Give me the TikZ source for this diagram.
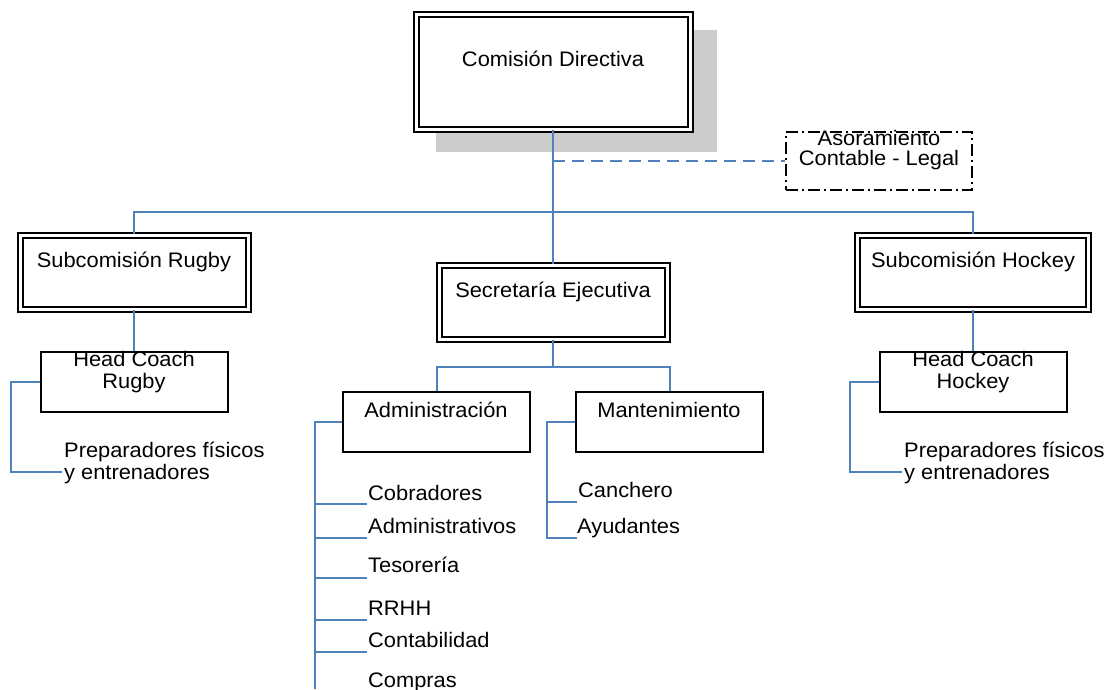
\documentclass[tikz,border=0pt]{standalone}
\usepackage{fontspec}
\setmainfont{Liberation Sans}[FakeStretch=1.04]
\definecolor{blueline}{RGB}{79,129,189}
\definecolor{shadowgray}{RGB}{204,204,204}
\begin{document}
\begin{tikzpicture}[x=1pt,y=-1pt,
 dbox/.style={draw=black, double=white, double distance=3pt, line width=2pt, fill=white, inner sep=0pt},
 sbox/.style={draw=black, line width=2pt, fill=white, inner sep=0pt},
 abox/.style={draw=black, line width=2pt, dash pattern=on 12pt off 4pt on 2pt off 4pt, fill=white, inner sep=0pt},
 conn/.style={draw=blueline, line width=2pt},
 dconn/.style={conn, dash pattern=on 12pt off 7pt},
 txt/.style={inner sep=0pt, anchor=base, font=\fontsize{21}{22}\selectfont},
 ltxt/.style={txt, anchor=base west}]
\useasboundingbox (0,0) rectangle (1107,689);

% shadow
\fill[shadowgray] (436,30) rectangle (717,152);

% boxes
\node[dbox, minimum width=274pt, minimum height=115pt] (cd) at (553,71.5) {};
\node[abox, minimum width=186pt, minimum height=58pt] (aso) at (879,161) {};
\node[dbox, minimum width=228pt, minimum height=74pt] (rugby) at (134,272) {};
\node[dbox, minimum width=231pt, minimum height=74pt] (hockey) at (973,272) {};
\node[dbox, minimum width=228pt, minimum height=74pt] (sec) at (553,302) {};
\node[sbox, minimum width=187pt, minimum height=60pt] (hcr) at (134,382) {};
\node[sbox, minimum width=187pt, minimum height=60pt] (hch) at (973,382) {};
\node[sbox, minimum width=187pt, minimum height=60pt] (adm) at (436.5,422) {};
\node[sbox, minimum width=187pt, minimum height=60pt] (man) at (669.5,422) {};

% coordinates
\coordinate (bus) at (553,212);
\coordinate (dstart) at (553,161);
\coordinate (sbus) at (553,367);
\coordinate (rp) at (62,472);
\coordinate (hp) at (902,472);
\coordinate (aend) at (315,689);
\coordinate (b1) at (367,504);
\coordinate (b2) at (367,538);
\coordinate (b3) at (367,578);
\coordinate (b4) at (367,620);
\coordinate (b5) at (367,652);
\coordinate (mv) at (547,0);
\coordinate (m1) at (577,502);
\coordinate (m2) at (577,538);

% connectors
\draw[conn] (cd.south) -- (sec.north);
\draw[dconn] (dstart) -- (aso.west);
\draw[conn] (rugby.north) |- (bus) -| (hockey.north);
\draw[conn] (rugby.south) -- (hcr.north);
\draw[conn] (hockey.south) -- (hch.north);
\draw[conn] (hcr.west) -- ++(-29,0) |- (rp);
\draw[conn] (hch.west) -- ++(-29,0) |- (hp);
\draw[conn] (sec.south) -- (sbus);
\draw[conn] (adm.north) |- (sbus) -| (man.north);
\draw[conn] (adm.west) -- (aend |- adm.west) -- (aend);
\foreach \b in {b1,b2,b3,b4,b5} \draw[conn] (aend |- \b) -- (\b);
\draw[conn] (man.west) -| (mv |- m2) -- (m2);
\draw[conn] (mv |- m1) -- (m1);

% texts
\node[txt] (tcd) at (553,66) {Comisión Directiva};
\node[txt] (tas1) at (879,145) {Asoramiento};
\node[txt] (tas2) at (879,165) {Contable - Legal};
\node[txt] (trg) at (134,267) {Subcomisión Rugby};
\node[txt] (thk) at (973,267) {Subcomisión Hockey};
\node[txt] (tse) at (553,297) {Secretaría Ejecutiva};
\node[txt] (thcr1) at (134,366) {Head Coach};
\node[txt] (thcr2) at (134,388) {Rugby};
\node[txt] (thch1) at (973,366) {Head Coach};
\node[txt] (thch2) at (973,388) {Hockey};
\node[txt] (tadm) at (436,417) {Administración};
\node[txt] (tman) at (669,417) {Mantenimiento};
\node[ltxt] (tpr1) at (64,457) {Preparadores físicos};
\node[ltxt] (tpr2) at (64,479) {y entrenadores};
\node[ltxt] (tph1) at (904,457) {Preparadores físicos};
\node[ltxt] (tph2) at (904,479) {y entrenadores};
\node[ltxt] (tc1) at (368,500) {Cobradores};
\node[ltxt] (tc2) at (368,533) {Administrativos};
\node[ltxt] (tc3) at (368,572) {Tesorería};
\node[ltxt] (tc4) at (368,615) {RRHH};
\node[ltxt] (tc5) at (368,647) {Contabilidad};
\node[ltxt] (tc6) at (368,687) {Compras};
\node[ltxt] (tm1) at (578,497) {Canchero};
\node[ltxt] (tm2) at (577,533) {Ayudantes};
\end{tikzpicture}
\end{document}
